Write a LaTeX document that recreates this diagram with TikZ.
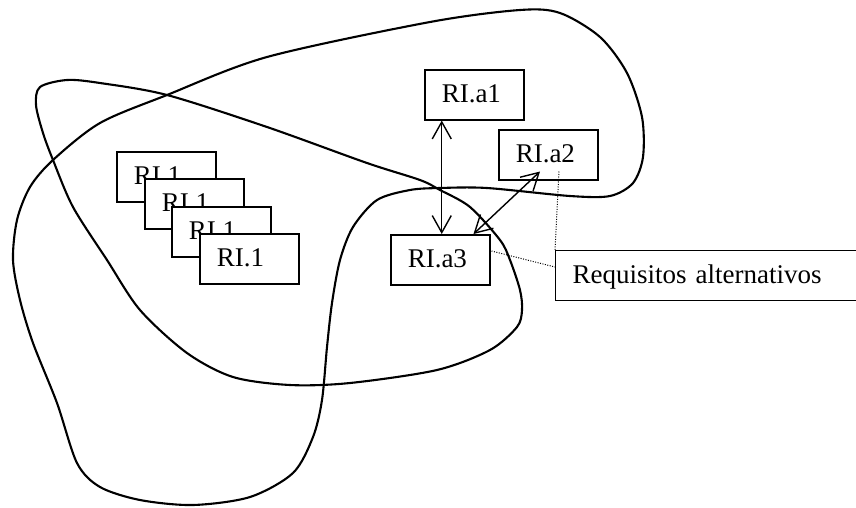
\documentclass[tikz,border=0pt]{standalone}
\usepackage{fontspec}
\setmainfont{Liberation Serif}
\usetikzlibrary{arrows.meta,calc}

\begin{document}
\begin{tikzpicture}[x=1pt,y=-1pt,
  blob/.style={line width=2.1pt, line join=round},
  ribox/.style={draw, line width=1.5pt, fill=white, anchor=north west,
    minimum height=50pt, text width=65pt, align=left,
    inner xsep=17pt, inner ysep=0pt, text height=19pt, text depth=3pt,
    font=\fontsize{27}{30}\selectfont},
  notebox/.style={ribox, text width=300pt, line width=1.1pt},
  dbl/.style={line width=1.4pt, {Straight Barb[length=17pt,width=19pt]}-{Straight Barb[length=17pt,width=19pt]}},
  leader/.style={line width=1pt, dash pattern=on 1pt off 1.5pt}
]
\useasboundingbox (0,0) rectangle (856,507);
\clip (0,0) rectangle (856,507);

% the two overlapping regions
\draw[blob] plot[smooth cycle] coordinates {
  (13,260) (17,220) (30,187) (53,160) (100,123) (167,95) (267,57) (430,22)
  (520,10) (560,13) (600,37) (627,73) (642,117) (643,157) (633,183) (610,196)
  (570,196) (487,188) (440,188) (410,190) (377,200) (353,227) (340,260)
  (332,303) (327,347) (322,400) (313,437) (293,473) (250,497) (193,505)
  (140,500) (100,487) (77,463) (57,403) (33,343) (20,300)};
\draw[blob] plot[smooth cycle] coordinates {
  (40,87) (67,80) (100,83) (167,95) (267,127) (367,163) (420,180) (440,190)
  (470,207) (500,240) (510,260) (520,290) (522,310) (517,327) (490,350)
  (437,370) (350,383) (290,385) (233,377) (187,353) (140,310) (107,260)
  (73,207) (53,160) (43,133) (36,105)};

% stacked RI.1 cards
\node[ribox] (b1) at (116,151) {RI.1};
\node[ribox] (b2) at (144,178) {RI.1};
\node[ribox] (b3) at (171,206) {RI.1};
\node[ribox] (b4) at (199,233) {RI.1};

% alternative requirements
\node[ribox] (a1) at (424,69) {RI.a1};
\node[ribox] (a2) at (498,129) {RI.a2};
\node[ribox] (a3) at (390,234) {RI.a3};

\draw[dbl] ($(a3.north |- a1.south)+(1.5,0)$) -- ($(a3.north)+(1.5,0)$);
\draw[dbl] ($(a2.south west)+(42,-9)$) -- ($(a3.north east)+(-17,0)$);

% callout
\node[notebox] (req) at (555,250) {Requisitos alternativos};
\draw[leader] ($(a2.south west)+(61,-9)$) -- (req.north west);
\draw[leader] ($(a3.north east)+(1,17)$) -- ($(req.north west)+(0,17)$);
\end{tikzpicture}
\end{document}
